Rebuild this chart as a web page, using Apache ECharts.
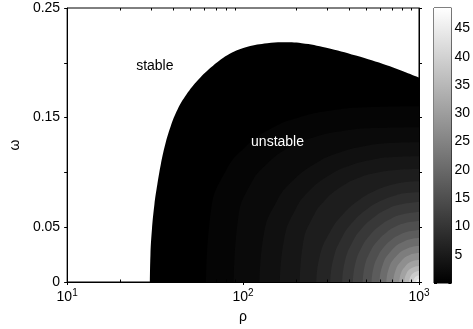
<!DOCTYPE html>
<html><head><meta charset="utf-8">
<script src="https://cdn.jsdelivr.net/npm/echarts@6/dist/echarts.min.js"></script>
<style>html,body{margin:0;padding:0;background:#fff}#c{width:473px;height:329px}</style>
</head><body><div id="c"></div>
<script>
// ---- axis data ----
const xMinorTicks = [20,30,40,50,60,70,80,90,200,300,400,500,600,700,800,900];
const yTickLabels = ['0','0.05','','0.15','','0.25'];
const cbTicks = [5,10,15,20,25,30,35,40,45];
const cbMin = 0, cbMax = 48.6;

// ---- stability boundary (rho, omega) ----
const boundary = [[29.55,0],[29.75,0.0252],[30.33,0.0480],[31.33,0.0708],[32.56,0.0891],[34.06,0.1073],[36.09,0.1255],[38.74,0.1419],[42.41,0.1574],[47.64,0.1711],[55.6,0.1846],[67.47,0.1974],[84.0,0.2083],[106,0.2147],[137.2,0.2179],[166.4,0.2187],[215.4,0.2179],[297.4,0.2138],[437.9,0.2066],[661.8,0.1975],[1000,0.1865]];

// ---- growth-rate contour levels and their lines (rho, omega) ----
const levels = [0.95,1.9,3.05,4.19,5.53,7.05,8.77,10.67,12.77,15.06,17.53,20.58,23.82,27.25,30.88,34.69,38.5,42.31,45.74];
const c01 = [[61.6,0],[65.7,0.0652],[79.5,0.1010],[102,0.1226],[146,0.1404],[208,0.1502],[323,0.1567],[504,0.1595],[1000,0.1604]];
const c02 = [[88.5,0],[93.5,0.0573],[110,0.0889],[137,0.1080],[187,0.1236],[255,0.1323],[374,0.1380],[551,0.1405],[1000,0.1412]];
const c03 = [[124,0],[131,0.0433],[155,0.0733],[192,0.0925],[262,0.1088],[350,0.1179],[493,0.1241],[678,0.1268],[1000,0.1276]];
const c04 = [[162,0],[171,0.0389],[198,0.0660],[238,0.0833],[312,0.0979],[401,0.1061],[540,0.1116],[713,0.1141],[1000,0.1148]];
const c05 = [[210,0],[219,0.0349],[249,0.0591],[292,0.0746],[368,0.0878],[456,0.0952],[589,0.1001],[748,0.1023],[1000,0.1030]];
const c06 = [[261,0],[273,0.0238],[313,0.0460],[369,0.0616],[463,0.0754],[567,0.0834],[707,0.0889],[849,0.0913],[1000,0.0920]];
const c07 = [[313,0],[326,0.0212],[366,0.0410],[422,0.0549],[514,0.0672],[613,0.0743],[740,0.0792],[868,0.0814],[1000,0.0820]];
const c08 = [[366,0],[379,0.0189],[419,0.0364],[473,0.0487],[562,0.0597],[653,0.0661],[771,0.0704],[1000,0.0729]];
const c09 = [[421,0],[434,0.0165],[473,0.0319],[526,0.0427],[609,0.0522],[694,0.0578],[800,0.0616],[1000,0.0638]];
const c10 = [[479,0],[491,0.0144],[529,0.0278],[579,0.0372],[656,0.0455],[733,0.0504],[826,0.0537],[1000,0.0556]];
const c11 = [[538,0],[550,0.0123],[585,0.0237],[631,0.0317],[701,0.0388],[770,0.0429],[852,0.0457],[1000,0.0474]];
const c12 = [[597,0],[616,0.0137],[694,0.0283],[838,0.0376],[1000,0.0401]];
const c13 = [[653,0],[670,0.0112],[740,0.0232],[864,0.0308],[1000,0.0328]];
const c14 = [[715,0],[730,0.0090],[789,0.0187],[892,0.0249],[1000,0.0264]];
const c15 = [[773,0],[785,0.0068],[834,0.0142],[916,0.0189],[1000,0.0200]];
const c16 = [[824,0],[846,0.0073],[908,0.0127],[1000,0.0146]];
const c17 = [[879,0],[894,0.0050],[938,0.0087],[1000,0.0100]];
const c18 = [[926,0],[947,0.0042],[1000,0.0059]];
const c19 = [[962,0],[973,0.0019],[1000,0.0027]];
const contours = [c01,c02,c03,c04,c05,c06,c07,c08,c09,c10,c11,c12,c13,c14,c15,c16,c17,c18,c19];

// ---- region labels ----
const regionLabels = [{name:'stable', coord:[31.5,0.1974], color:'#000'},{name:'unstable', coord:[157,0.1277], color:'#fff'}];

function gray(v){const g=Math.max(0,Math.min(255,Math.round((v-cbMin)/(cbMax-cbMin)*255)));return 'rgb('+g+','+g+','+g+')';}

const FONT = 'Liberation Sans, Arial, Helvetica, sans-serif';
const chart = echarts.init(document.getElementById('c'), null, {renderer:'canvas'});

const series = [];
series.push({
  type:'line', xAxisIndex:0, yAxisIndex:0, data: boundary, symbol:'none', smooth:0.4,
  lineStyle:{width:0}, areaStyle:{color:'#000', opacity:1}, silent:true, z:2,
  markPoint:{symbol:'circle', symbolSize:0, silent:true,
    data: regionLabels.map(r=>({name:r.name, coord:r.coord, label:{show:true, formatter:r.name, color:r.color, fontSize:14, fontFamily:FONT, position:'inside'}}))}
});
contours.forEach((c,i)=>{
  series.push({type:'line', xAxisIndex:0, yAxisIndex:0, data:c, symbol:'none', smooth:0.5,
    lineStyle:{width:0}, areaStyle:{color:gray(levels[i]), opacity:1}, silent:true, z:2});
});
series.push({
  type:'custom', xAxisIndex:0, yAxisIndex:0, data:xMinorTicks.map(v=>[v]), clip:false, silent:true, z:5,
  encode:{x:0},
  renderItem:function(params, api){
    const v = api.value(0);
    const b = api.coord([v,0]); const t = api.coord([v,0.25]);
    const x = Math.round(b[0])+0.5;
    return {type:'group', children:[
      {type:'line', shape:{x1:x,y1:b[1],x2:x,y2:b[1]-2.5}, style:{stroke:'#000',lineWidth:1}},
      {type:'line', shape:{x1:x,y1:t[1],x2:x,y2:t[1]+2.5}, style:{stroke:'#000',lineWidth:1}}
    ]};
  }
});
series.push({
  type:'bar', xAxisIndex:2, yAxisIndex:2, data:[cbMax], barWidth:'100%', silent:true,
  itemStyle:{color:new echarts.graphic.LinearGradient(0,0,0,1,[{offset:0,color:'#fff'},{offset:1,color:'#000'}])}
});

const axLine = {show:true, lineStyle:{color:'#000', width:1}};
chart.setOption({
  animation:false,
  backgroundColor:'#fff',
  textStyle:{fontFamily:FONT},
  grid:[
    {left:62, top:8, width:357, height:275, show:true, borderColor:'#000', borderWidth:1, backgroundColor:'#fff'},
    {left:434, top:8, width:22, height:275, show:true, borderColor:'#000', borderWidth:1}
  ],
  xAxis:[
    {type:'log', logBase:10, min:10, max:1000, gridIndex:0, position:'bottom',
     axisLine:axLine, axisTick:{show:true, inside:false, length:3, lineStyle:{color:'#000'}},
     splitLine:{show:false}, minorTick:{show:false},
     name:'ρ', nameLocation:'middle', nameGap:28, nameTextStyle:{fontSize:14, color:'#000', fontFamily:FONT},
     axisLabel:{margin:6, color:'#000', fontFamily:FONT,
       formatter:function(v){return '{b|10}{s|'+Math.round(Math.log10(v))+'}';},
       rich:{b:{fontSize:14, fontFamily:FONT, color:'#000'}, s:{fontSize:10, fontFamily:FONT, color:'#000', verticalAlign:'bottom', padding:[0,0,9,0]}}}},
    {type:'log', logBase:10, min:10, max:1000, gridIndex:0, position:'top',
     axisLine:axLine, axisTick:{show:true, inside:false, length:3, lineStyle:{color:'#000'}},
     axisLabel:{show:false}, splitLine:{show:false}},
    {type:'category', gridIndex:1, data:['cb'], show:false}
  ],
  yAxis:[
    {type:'value', min:0, max:0.25, interval:0.05, gridIndex:0, position:'left',
     axisLine:axLine, axisTick:{show:true, inside:false, length:3, lineStyle:{color:'#000'}},
     splitLine:{show:false},
     name:'ω', nameLocation:'middle', nameGap:40, nameRotate:90, nameTextStyle:{fontSize:14, color:'#000', fontFamily:FONT},
     axisLabel:{margin:7, fontSize:14, color:'#000', fontFamily:FONT,
       formatter:function(v){const i=Math.round(v/0.05); return (Math.abs(v-i*0.05)<1e-9 && yTickLabels[i]!==undefined)?yTickLabels[i]:'';}}},
    {type:'value', min:0, max:0.25, interval:0.05, gridIndex:0, position:'right',
     axisLine:axLine, axisTick:{show:true, inside:false, length:3, lineStyle:{color:'#000'}},
     axisLabel:{show:false}, splitLine:{show:false}},
    {type:'value', min:cbMin, max:cbMax, interval:5, gridIndex:1, position:'right',
     axisLine:{show:false}, axisTick:{show:true, inside:true, length:3, lineStyle:{color:'#000'}},
     splitLine:{show:false},
     axisLabel:{margin:3, fontSize:14, color:'#000', fontFamily:FONT,
       formatter:function(v){return cbTicks.indexOf(Math.round(v*1000)/1000)>=0?String(v):'';}}},
    {type:'value', min:cbMin, max:cbMax, interval:5, gridIndex:1, position:'left',
     axisLine:{show:false}, axisTick:{show:true, inside:true, length:3, lineStyle:{color:'#000'}},
     axisLabel:{show:false}, splitLine:{show:false}}
  ],
  series: series
});
</script></body></html>
